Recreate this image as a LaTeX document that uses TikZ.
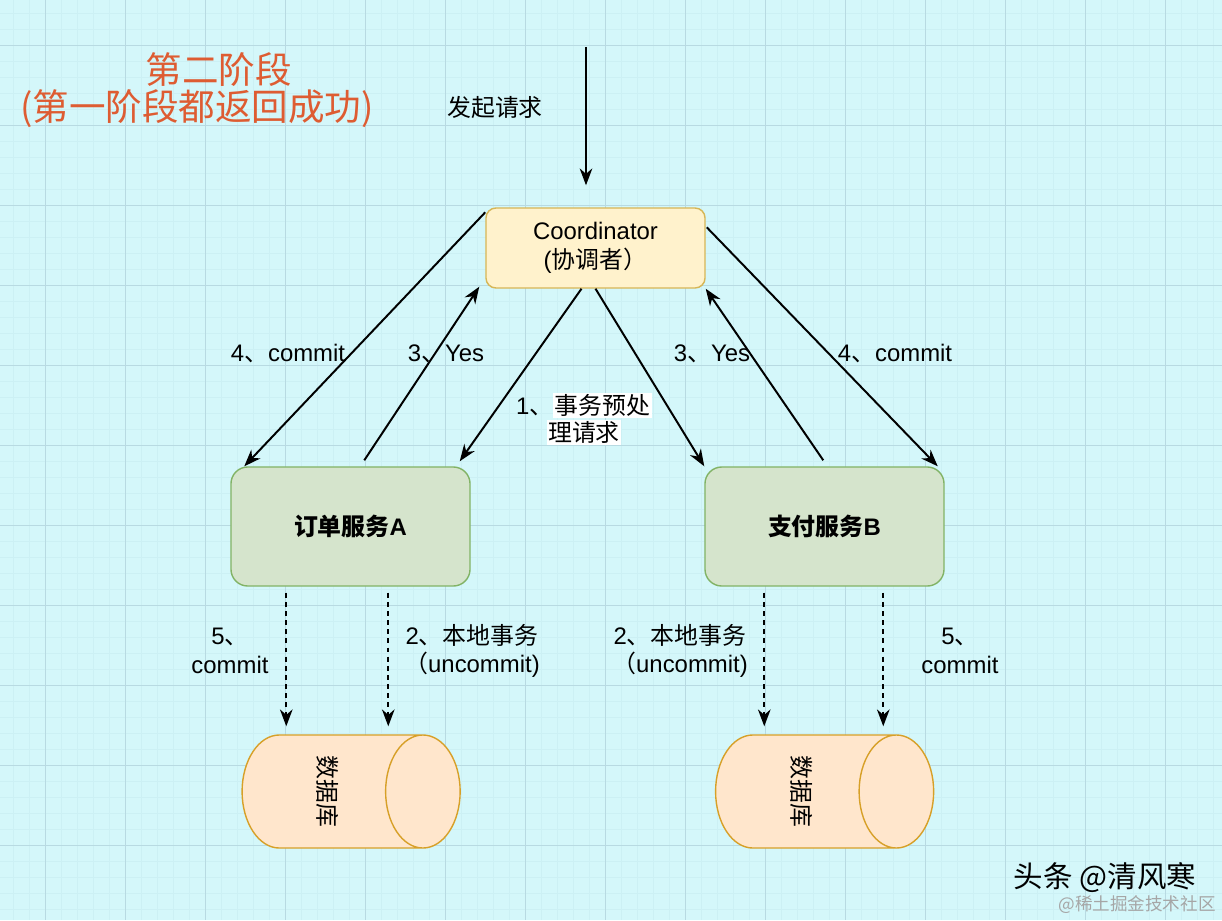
\documentclass[tikz,border=0pt]{standalone}
\usepackage{fontspec}
\setmainfont{Liberation Sans}
\newfontfamily\cjk{Noto Sans CJK SC}
\usepackage{xcolor}
\usetikzlibrary{arrows.meta, positioning, shapes.geometric, calc}

\definecolor{gridbg}{RGB}{212,247,250}
\definecolor{gridmajor}{RGB}{184,218,226}
\definecolor{gridminor}{RGB}{204,240,244}
\definecolor{titlered}{RGB}{222,92,50}
\definecolor{coordfill}{RGB}{255,242,204}
\definecolor{coordline}{RGB}{214,182,86}
\definecolor{svcfill}{RGB}{213,228,204}
\definecolor{svcline}{RGB}{130,179,102}
\definecolor{dbfill}{RGB}{255,230,204}
\definecolor{dbline}{RGB}{215,160,40}
\setlength{\fboxsep}{1pt}

\begin{document}
\begin{tikzpicture}[
          x=0.025cm, y=-0.025cm,
          every node/.style={font=\fontsize{17}{20.5}\selectfont, inner sep=1pt},
          coordbox/.style={rectangle, rounded corners=0.25cm, draw=coordline, fill=coordfill, line width=1pt,
            minimum width=5.475cm, minimum height=2cm, align=center},
          svcbox/.style={rectangle, rounded corners=0.42cm, draw=svcline, fill=svcfill, line width=1pt,
            minimum width=5.975cm, minimum height=2.975cm, font=\fontsize{17}{20.5}\selectfont\bfseries},
          dbcyl/.style={cylinder, aspect=1, draw=dbline, fill=dbfill, line width=1pt,
            minimum width=2.825cm, minimum height=5.45cm},
          msg/.style={-{Stealth[length=12pt, width=9pt]}, line width=1.4pt},
          local/.style={msg, dash pattern=on 3.5pt off 3pt, shorten >=0.2cm},
          lbl/.style={align=center}
        ]
  \useasboundingbox (0,0) rectangle (1222,920);
  \fill[gridbg] (0,0) rectangle (1222,920);
  \foreach \gx in {13,29,...,1222} \draw[gridminor, line width=0.4pt] (\gx,0) -- (\gx,920);
  \foreach \gy in {13,29,...,920} \draw[gridminor, line width=0.4pt] (0,\gy) -- (1222,\gy);
  \foreach \gx in {45,125,...,1222} \draw[gridmajor, line width=0.7pt] (\gx,0) -- (\gx,920);
  \foreach \gy in {45,125,...,920} \draw[gridmajor, line width=0.7pt] (0,\gy) -- (1222,\gy);

  \node[text=titlered, font=\cjk\fontsize{26}{26.5}\selectfont, align=center] (title) at (197,90)
    {\hspace*{1.2em}第二阶段\\(第一阶段都返回成功)};

  \coordinate (entry) at (586,47);
  \node (start) at (495,107) {\cjk 发起请求};

  \node[coordbox] (coord) at (595.5,248) {Coordinator\\({\cjk 协调者）}};
  \node[svcbox] (svcA) at (350.5,526.5) {{\cjk 订单服务}A};
  \node[svcbox] (svcB) at (824.5,526.5) {{\cjk 支付服务}B};
  \node[dbcyl] (dbA) at (328,791.5) {\rotatebox{-90}{\cjk 数据库}};
  \node[dbcyl] (dbB) at (801.5,791.5) {\rotatebox{-90}{\cjk 数据库}};

  \draw[msg, shorten >=0.55cm] (entry) -- (entry |- coord.north);

  \draw[msg] ($(coord.north west)+(0,5)$) -- ($(svcA.north west)+(14,0)$);
  \draw[msg] ($(svcA.north west)+(134,-6)$) -- ($(coord.south west)+(-6,-2)$);
  \draw[msg] ($(coord.south)+(-14,0)$) -- ($(svcA.north east)+(-11,-5)$);
  \draw[msg] (coord.south) -- (svcB.north west);
  \draw[msg] ($(svcB.north west)+(119,-6)$) -- (coord.south east);
  \draw[msg] ($(coord.north east)+(1,20)$) -- ($(svcB.north east)+(-7,0)$);

  \node[lbl] (lcommitA) at (288,354) {4{\cjk 、}commit};
  \node[lbl] (lyesA) at (446,354) {3{\cjk 、}Yes};
  \node[lbl] (lyesB) at (712,354) {3{\cjk 、}Yes};
  \node[lbl] (lcommitB) at (895,354) {4{\cjk 、}commit};
  \node[lbl, font=\fontsize{17}{17}\selectfont] (lprep) at (584,419)
    {1{\cjk 、}\colorbox{white}{\cjk 事务预处}\\\colorbox{white}{\cjk 理请求}};

  \coordinate (a5) at ($(svcA.south west)+(56,6)$);
  \coordinate (a2) at ($(svcA.south west)+(158,6)$);
  \coordinate (b2) at ($(svcB.south west)+(60,6)$);
  \coordinate (b5) at ($(svcB.south west)+(179,6)$);
  \draw[local] (a5) -- (a5 |- dbA.north);
  \draw[local] (a2) -- (a2 |- dbA.north);
  \draw[local] (b2) -- (b2 |- dbB.north);
  \draw[local] (b5) -- (b5 |- dbB.north);

  \node[lbl] (la5) at (230,651) {5{\cjk 、}\\commit};
  \node[lbl] (la2) at (472,651) {2{\cjk 、本地事务}\\{\cjk （}uncommit)};
  \node[lbl] (lb2) at (680,651) {2{\cjk 、本地事务}\\{\cjk （}uncommit)};
  \node[lbl] (lb5) at (960,651) {5{\cjk 、}\\commit};

  \node[font=\cjk\fontsize{21}{21}\selectfont] (wm) at (1105,878) {头条 @清风寒};
  \node[text=gray!70, font=\cjk\fontsize{12.5}{12.5}\selectfont] (wmsite) at (1137,905) {@稀土掘金技术社区};
\end{tikzpicture}
\end{document}
